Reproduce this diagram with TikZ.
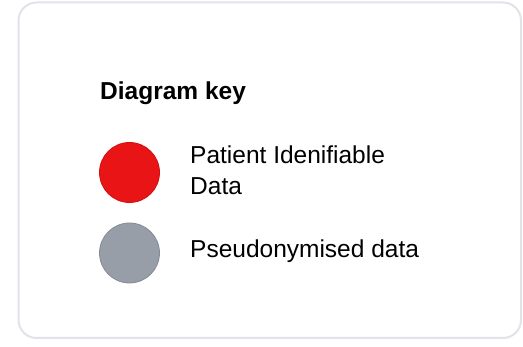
\documentclass[tikz,border=0pt]{standalone}
\usepackage{fontspec}
\setmainfont{Liberation Sans}
\definecolor{cardborder}{HTML}{E1E3E8}
\definecolor{pidred}{HTML}{E81416}
\definecolor{pidredline}{HTML}{D01012}
\definecolor{pseudogray}{HTML}{989EA8}
\definecolor{pseudograyline}{HTML}{858B95}
\tikzset{
  card/.style={draw=cardborder, line width=2pt, rounded corners=18pt, fill=white},
  keydot/.style={circle, minimum size=60pt, inner sep=0pt, line width=0.8pt},
  keytext/.style={anchor=base west, inner sep=0pt, font=\fontsize{24.5}{31}\selectfont, align=left},
  keytitle/.style={anchor=base west, inner sep=0pt, font=\fontsize{24.5}{28}\selectfont\bfseries}
}
\begin{document}
\begin{tikzpicture}[x=1pt,y=-1pt]
\useasboundingbox (0,0) rectangle (523,347);
\draw[card] (18.5,2.5) rectangle (521,338);
\node[keytitle] (title) at (100,100) {Diagram key};
\node[keydot, fill=pidred, draw=pidredline] (reddot) at (129.5,172.5) {};
\node[keydot, fill=pseudogray, draw=pseudograyline] (graydot) at (129.5,253) {};
\node[keytext] (pidtext1) at (190,163.3) {Patient Idenifiable};
\node[keytext] (pidtext2) at (190,194.3) {Data};
\node[keytext] (pseudotext) at (190,258) {Pseudonymised data};
\end{tikzpicture}
\end{document}
